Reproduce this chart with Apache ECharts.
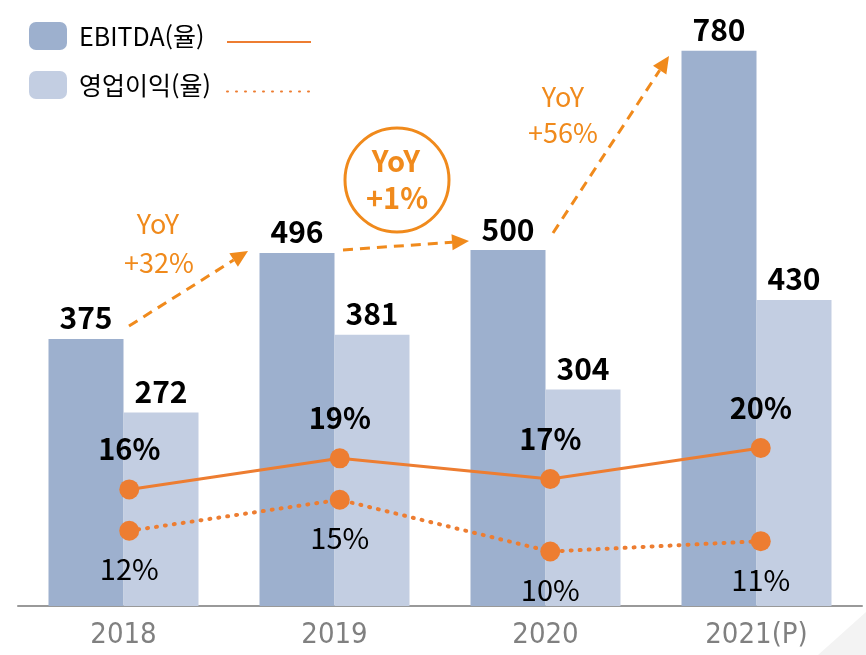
<!DOCTYPE html>
<html lang="ko">
<head>
    <meta charset="UTF-8">
    <title>EBITDA</title>
    <script src="https://cdn.jsdelivr.net/npm/echarts@6/dist/echarts.min.js"></script>
</head>
<body style="margin:0">
<div id="chart" style="width: 866px;height:655px;"></div>
<script>
    let years = ['2018', '2019', '2020', '2021(P)']
    let ebitda = [375, 496, 500, 780]
    let opIncome = [272, 381, 304, 430]
    let ebitdaRate = [16, 19, 17, 20]
    let opRate = [12, 15, 10, 11]

    let orange = '#ED7D31'
    let noteOrange = '#F08A1C'
    let font = 'Noto Sans CJK KR'

    // 점선 화살표 (주석용)
    function arrow(x1, y1, x2, y2) {
        let dx = x2 - x1, dy = y2 - y1
        let len = Math.sqrt(dx * dx + dy * dy)
        let ux = dx / len, uy = dy / len
        let hl = 17, hw = 8
        let bx = x2 - ux * hl, by = y2 - uy * hl
        return [{
            type: 'line',
            shape: {x1: x1, y1: y1, x2: bx, y2: by},
            style: {stroke: noteOrange, lineWidth: 3, lineDash: [10, 7]}
        }, {
            type: 'polygon',
            shape: {points: [[x2, y2], [bx - uy * hw, by + ux * hw], [bx + uy * hw, by - ux * hw]]},
            style: {fill: noteOrange}
        }]
    }

    function note(x, y, text, bold, size) {
        return {
            type: 'text', x: x, y: y,
            style: {
                text: text, fill: noteOrange, font: (bold ? 'bold ' : '') + size + 'px "' + font + '"',
                align: 'center', verticalAlign: 'middle'
            }
        }
    }

    let graphics = [].concat(
        arrow(129, 326, 248, 251),
        arrow(343, 250, 469, 241),
        arrow(553, 233, 669, 56),
        [
            note(158, 224, 'YoY', false, 27),
            note(159, 263, '+32%', false, 27),
            note(563, 97, 'YoY', false, 27),
            note(563, 133, '+56%', false, 27),
            {
                type: 'circle', shape: {cx: 397, cy: 180, r: 52},
                style: {fill: 'none', stroke: noteOrange, lineWidth: 3}
            },
            note(396, 161, 'YoY', true, 29),
            note(397, 198, '+1%', true, 29),
            {
                type: 'polygon', z: -1,
                shape: {points: [[818, 655], [866, 612], [866, 655]]},
                style: {fill: '#F3F3F3'}
            }
        ]
    )

    let chart = echarts.init(document.getElementById('chart'));

    let option = {
        animation: false,
        textStyle: {fontFamily: font},
        legend: [{
            data: ['EBITDA(율)', '영업이익(율)'],
            orient: 'vertical',
            left: 29,
            top: 22,
            padding: 0,
            itemWidth: 38,
            itemHeight: 28,
            itemGap: 21,
            textStyle: {fontSize: 25, color: '#000', padding: [0, 0, 0, 7]}
        }, {
            data: ['EBITDA율', '영업이익율'],
            orient: 'vertical',
            left: 226,
            top: 40,
            padding: 0,
            itemWidth: 84,
            itemHeight: 4,
            itemGap: 46,
            itemStyle: {opacity: 0},
            formatter: function () { return '' },
            textStyle: {fontSize: 1}
        }],
        grid: [
            {left: 18, right: 4, top: 1, bottom: 49},
            {left: 24, right: -2, top: 34, height: 636}
        ],
        xAxis: [{
            type: 'category',
            data: years,
            axisTick: {show: false},
            axisLine: {lineStyle: {color: '#999', width: 2}},
            axisLabel: {
                fontSize: 29, color: '#808080', margin: 15,
                fontFamily: 'DejaVu Sans Condensed'
            }
        }, {
            type: 'category',
            gridIndex: 1,
            data: years,
            show: false
        }],
        yAxis: [{
            type: 'value', min: 0, max: 850, show: false
        }, {
            type: 'value', gridIndex: 1, min: 0, max: 60, show: false
        }],
        series: [{
            name: 'EBITDA(율)',
            type: 'bar',
            data: ebitda,
            barWidth: 75,
            barGap: '0%',
            itemStyle: {color: '#9DB0CE'},
            label: {show: true, position: 'top', distance: 6, fontSize: 30, fontWeight: 'bold', color: '#000'}
        }, {
            name: '영업이익(율)',
            type: 'bar',
            data: opIncome,
            barWidth: 75,
            itemStyle: {color: '#C3CEE2'},
            label: {show: true, position: 'top', distance: 6, fontSize: 30, fontWeight: 'bold', color: '#000'}
        }, {
            name: 'EBITDA율',
            type: 'line',
            xAxisIndex: 1,
            yAxisIndex: 1,
            data: ebitdaRate,
            symbol: 'circle',
            symbolSize: 20,
            itemStyle: {color: orange},
            lineStyle: {color: orange, width: 3},
            label: {
                show: true, position: 'top', distance: 16, fontSize: 29, fontWeight: 'bold', color: '#000',
                formatter: '{c}%'
            }
        }, {
            name: '영업이익율',
            type: 'line',
            xAxisIndex: 1,
            yAxisIndex: 1,
            data: opRate,
            symbol: 'circle',
            symbolSize: 20,
            itemStyle: {color: orange},
            lineStyle: {color: orange, width: 4, type: [1, 8], cap: 'round'},
            label: {
                show: true, position: 'bottom', distance: 14, fontSize: 29, color: '#000',
                formatter: '{c}%'
            }
        }],
        graphic: graphics
    };
    chart.setOption(option);
</script>
</body>
</html>
